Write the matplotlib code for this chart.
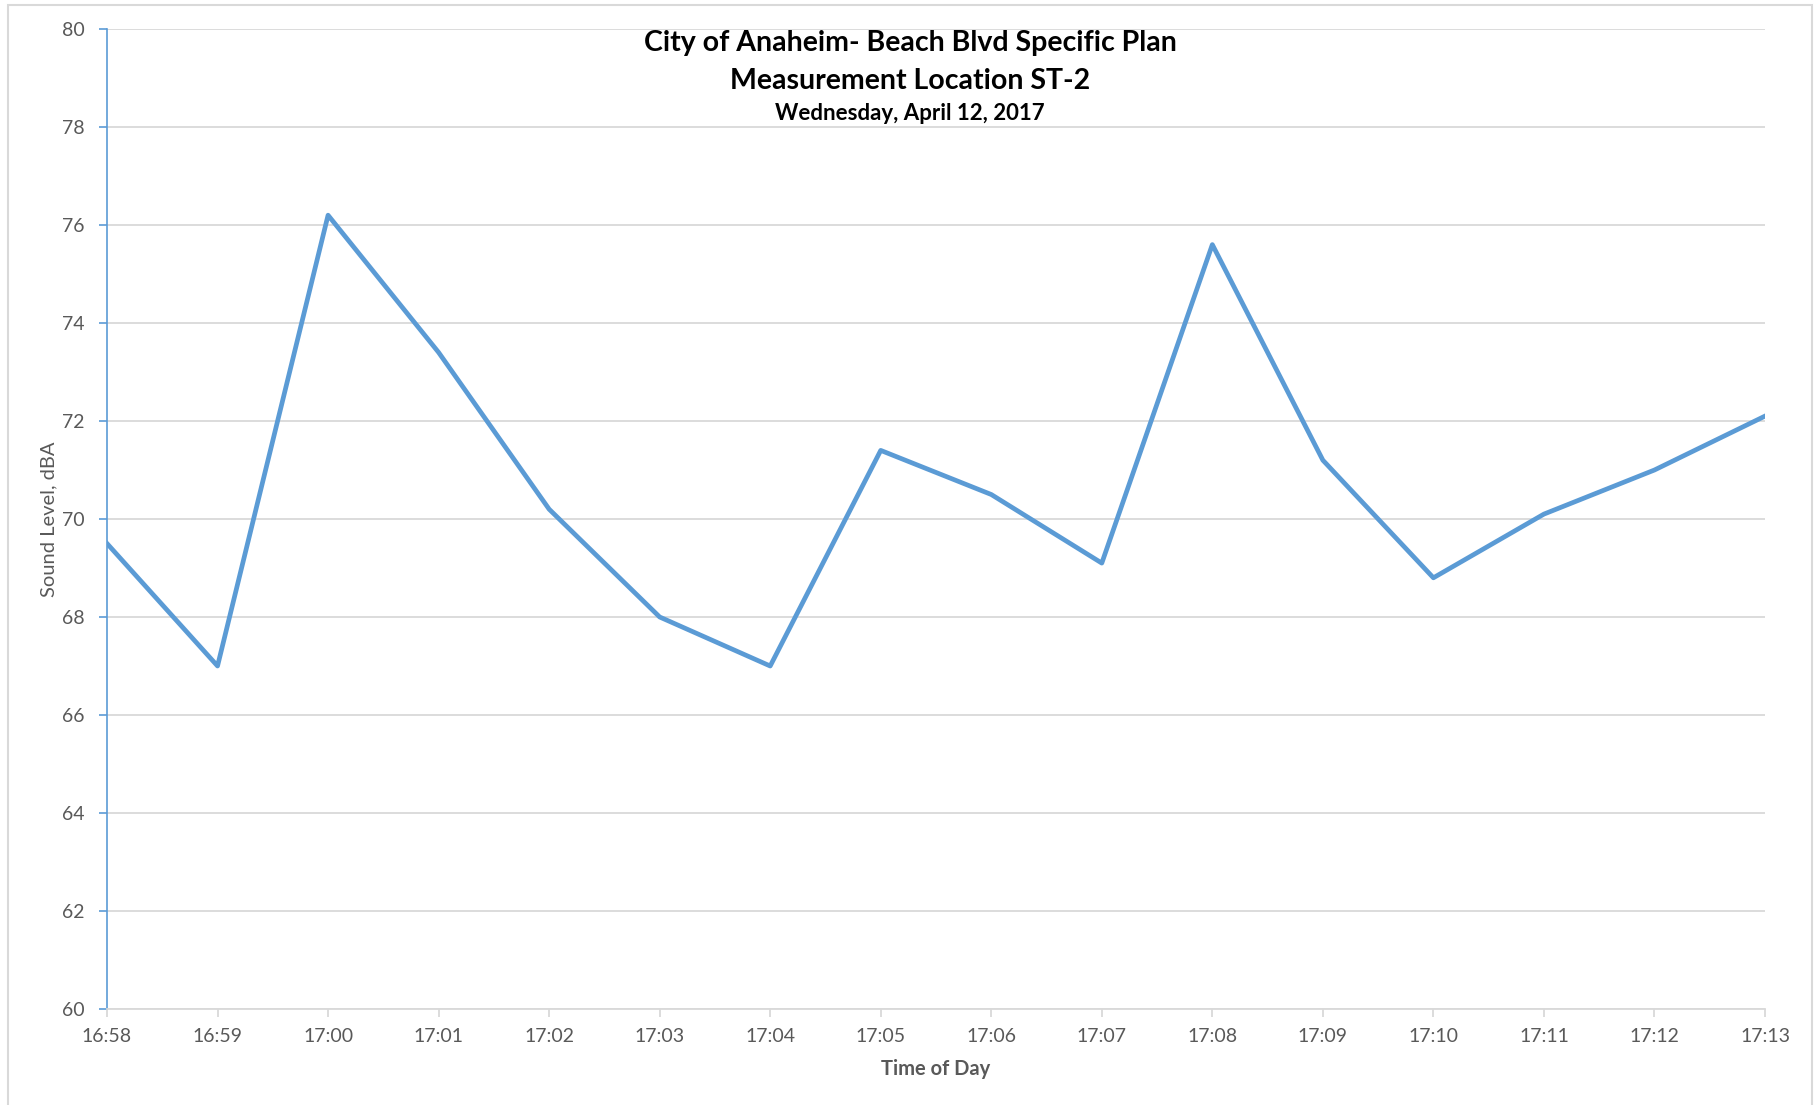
import matplotlib
matplotlib.use("Agg")
import matplotlib.pyplot as plt
from matplotlib.patches import Rectangle

plt.rcParams.update({
    "font.family": ["Lato", "DejaVu Sans"],
    "font.size": 14,
})

times = ["16:58", "16:59", "17:00", "17:01", "17:02", "17:03", "17:04", "17:05",
         "17:06", "17:07", "17:08", "17:09", "17:10", "17:11", "17:12", "17:13"]
levels = [69.5, 67.0, 76.2, 73.4, 70.2, 68.0, 67.0, 71.4,
          70.5, 69.1, 75.6, 71.2, 68.8, 70.1, 71.0, 72.1]
yticks = [60, 62, 64, 66, 68, 70, 72, 74, 76, 78, 80]

blue = "#5B9BD5"
grid_grey = "#D9D9D9"
text_grey = "#595959"

fig = plt.figure(figsize=(18.2, 11.05), dpi=100)
ax = fig.add_axes([107 / 1820, 1 - 1009 / 1105, (1765 - 107) / 1820, (1009 - 29) / 1105])

x = list(range(len(times)))
ax.plot(x, levels, color=blue, lw=3.4, solid_joinstyle="round", zorder=3)

ax.set_xlim(0, len(times) - 1)
ax.set_ylim(60, 80)
ax.set_xticks(x)
ax.set_xticklabels(times)
ax.set_yticks(yticks)

ax.grid(axis="y", color=grid_grey, lw=1.3)
ax.set_axisbelow(True)
for side in ("top", "right"):
    ax.spines[side].set_visible(False)
ax.spines["left"].set_color(blue)
ax.spines["left"].set_linewidth(1.2)
ax.spines["bottom"].set_color(grid_grey)
ax.spines["bottom"].set_linewidth(1.3)

ax.tick_params(axis="y", colors=blue, length=6, width=1.2, pad=10,
               labelcolor=text_grey, labelsize=14)
ax.tick_params(axis="x", colors=grid_grey, length=6, width=1.3, pad=8,
               labelcolor=text_grey, labelsize=14)

ax.set_xlabel("Time of Day", fontsize=14.5, fontweight="bold", color=text_grey, labelpad=10)
ax.set_ylabel("Sound Level, dBA", fontsize=14.5, color=text_grey, labelpad=3)

fig.text(0.5, 1 - 43 / 1105, "City of Anaheim- Beach Blvd Specific Plan",
         ha="center", va="center", fontsize=20.5, fontweight="bold")
fig.text(0.5, 1 - 81 / 1105, "Measurement Location ST-2",
         ha="center", va="center", fontsize=20.5, fontweight="bold")
fig.text(0.5, 1 - 114 / 1105, "Wednesday, April 12, 2017",
         ha="center", va="center", fontsize=16, fontweight="bold")

# chart area border
fig.patches.append(Rectangle((8 / 1820, -0.05), (1812 - 8) / 1820, 1.05 - 5 / 1105,
                             transform=fig.transFigure, fill=False,
                             edgecolor=grid_grey, lw=1.5))

fig.savefig("out.png", dpi=100)
